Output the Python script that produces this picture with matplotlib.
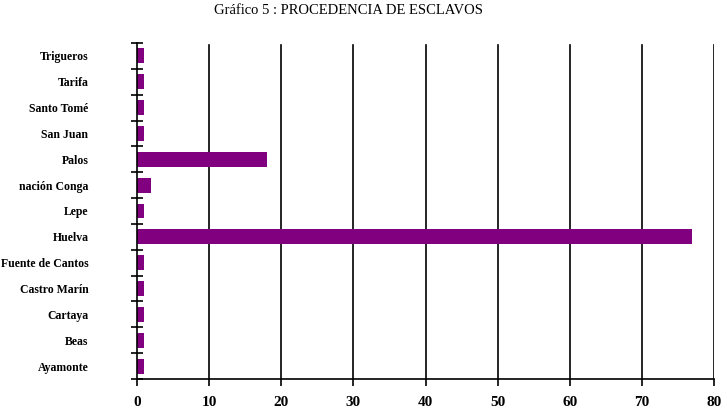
import matplotlib
matplotlib.use("Agg")
import matplotlib.pyplot as plt
import numpy as np

categories = ["Ayamonte", "Beas", "Cartaya", "Castro Marín", "Fuente de Cantos",
              "Huelva", "Lepe", "nación Conga", "Palos", "San Juan",
              "Santo Tomé", "Tarifa", "Trigueros"]
values = [1, 1, 1, 1, 1, 77, 1, 2, 18, 1, 1, 1, 1]
x_ticks = [0, 10, 20, 30, 40, 50, 60, 70, 80]
title = "Gráfico 5 : PROCEDENCIA DE ESCLAVOS"

plt.rcParams['font.family'] = ['Liberation Serif', 'DejaVu Serif']

fig = plt.figure(figsize=(7.27, 4.09), dpi=100)
ax = fig.add_axes([137/727, 1 - 379/409, (714 - 137)/727, (379 - 43)/409])

y = np.arange(len(categories))
ax.barh(y, values, height=0.58, color="#800080", zorder=3)

ax.set_xlim(0, 80)
ax.set_ylim(-0.5, len(categories) - 0.5)

for s in ["top", "right"]:
    ax.spines[s].set_visible(False)
for s in ["left", "bottom"]:
    ax.spines[s].set_color("black")
    ax.spines[s].set_linewidth(1.2)
    ax.spines[s].set_zorder(4)

ax.set_xticks(x_ticks)
ax.set_xticklabels([str(v) for v in x_ticks], fontsize=11, fontweight="bold")
ax.tick_params(axis="x", direction="out", length=5, width=1.2, pad=7)
for xv in x_ticks[1:]:
    ax.axvline(xv, ymax=0.995, color="black", linewidth=1.2, zorder=1)

# category ticks at boundaries, labels at centers
ax.set_yticks(np.arange(len(categories) + 1) - 0.5)
ax.set_yticklabels([])
ax.tick_params(axis="y", which="major", direction="inout", length=9, width=1.2)
ax.set_yticks(y, minor=True)
ax.set_yticklabels(categories, minor=True, fontsize=8.5, fontweight="bold")
ax.tick_params(axis="y", which="minor", length=0, pad=35)

fig.text(349/727, 1 - 10/409, title, ha="center", va="center", fontsize=10.5)

fig.savefig("out.png", dpi=100)
